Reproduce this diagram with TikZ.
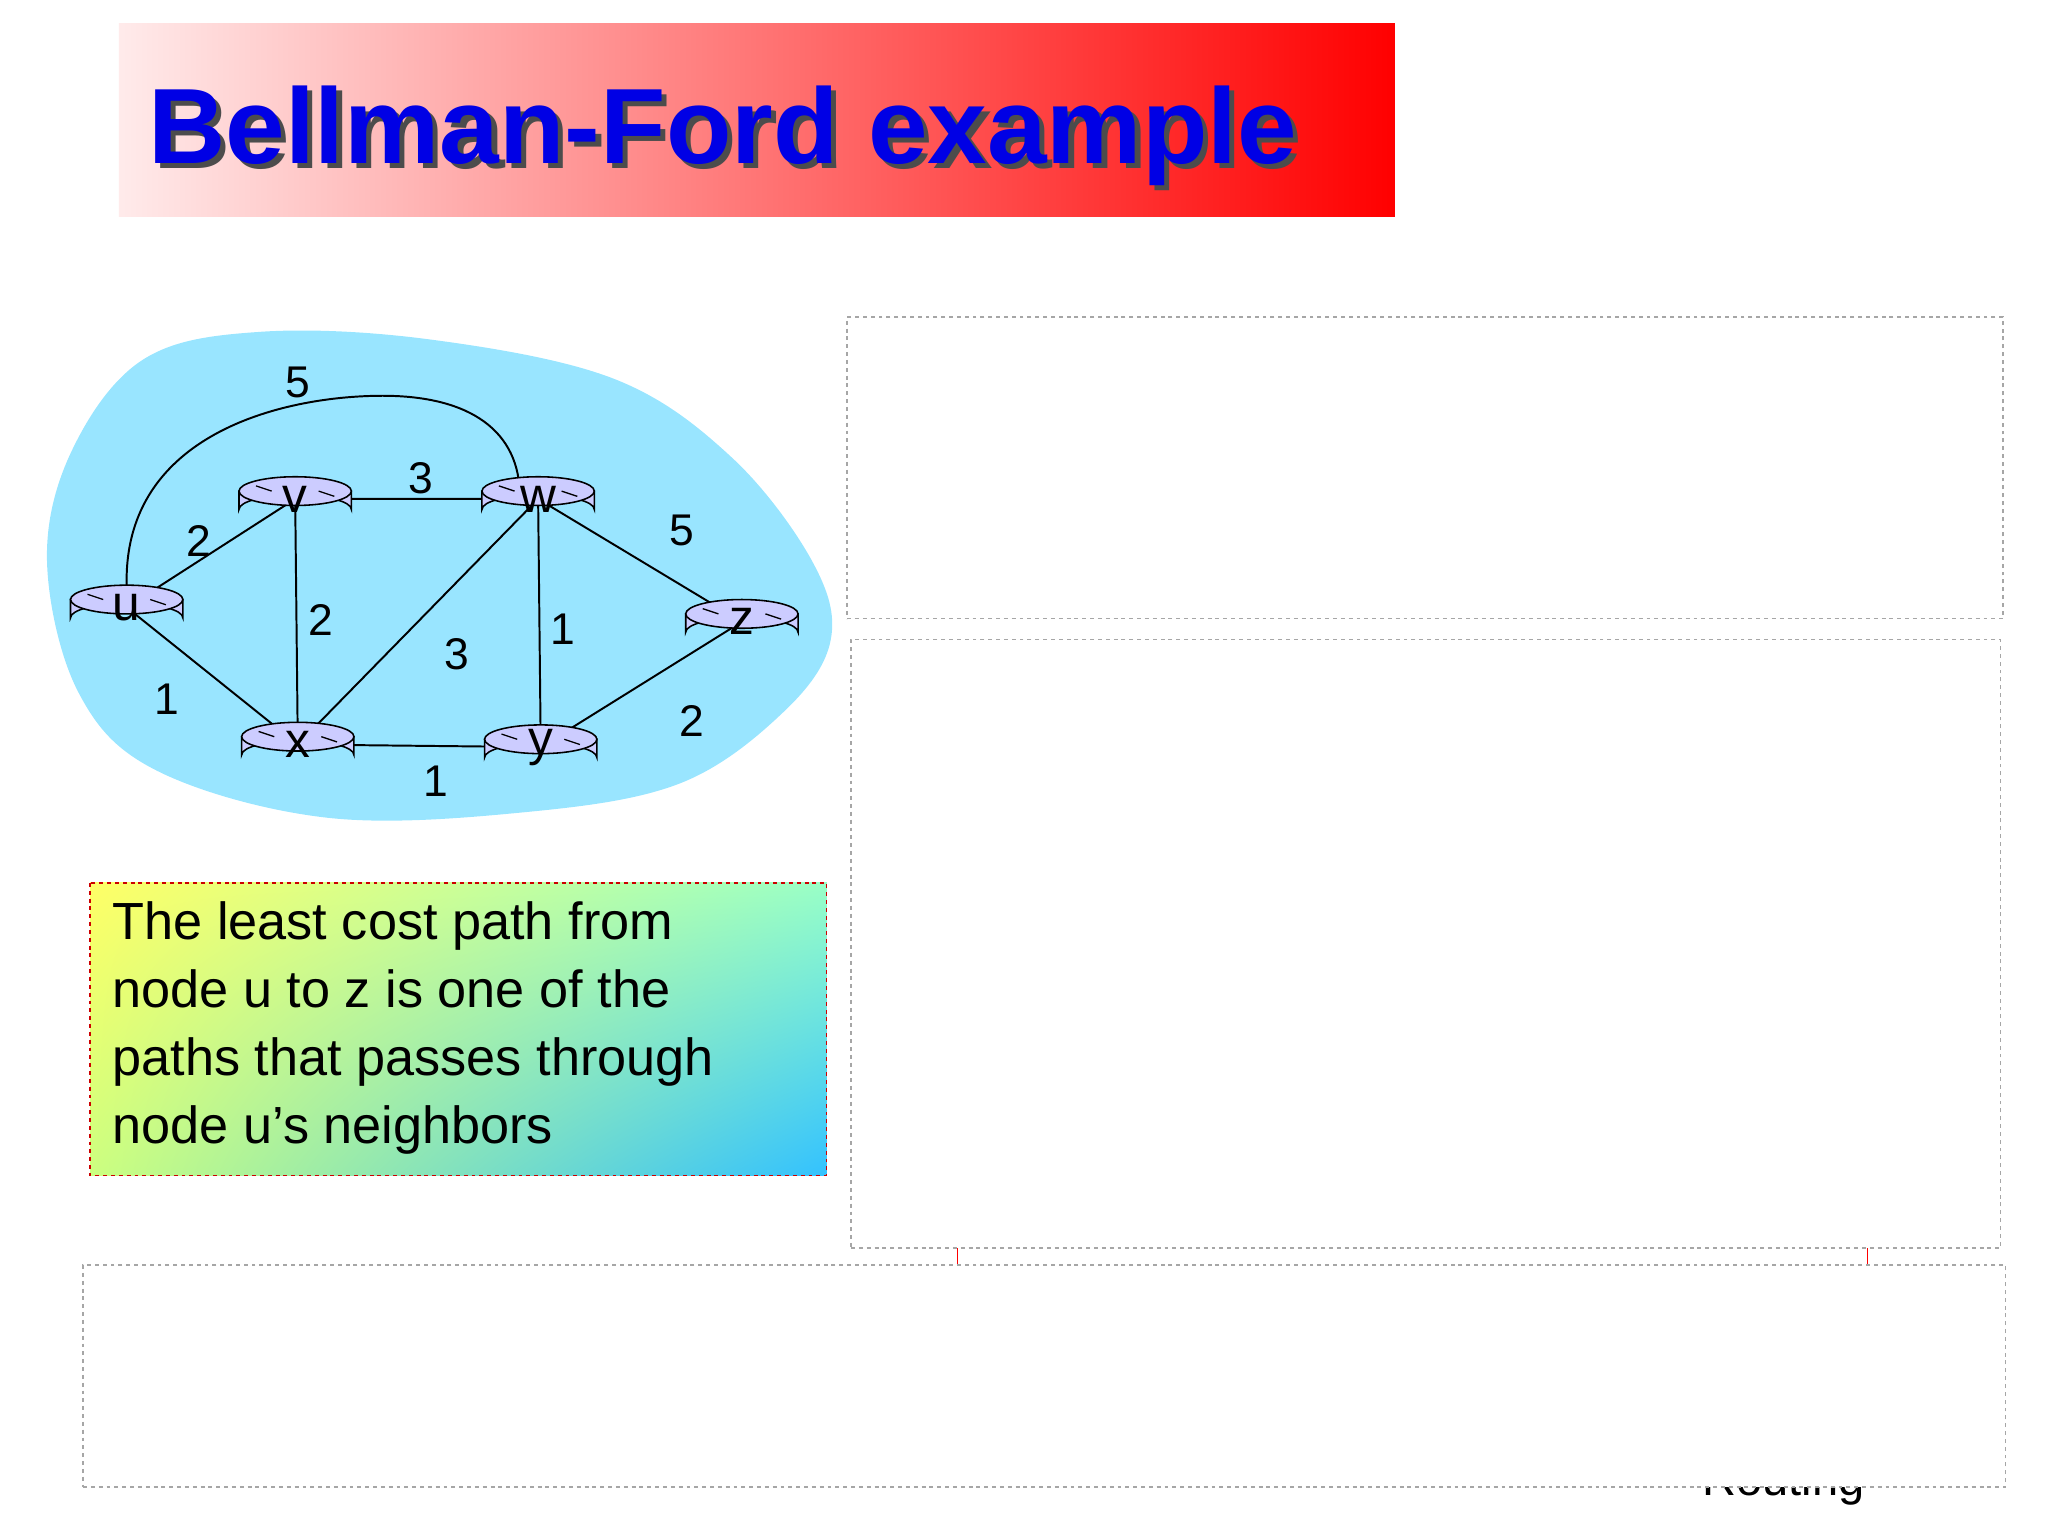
\documentclass[tikz,border=0pt]{standalone}
\usepackage{fontspec}
\setmainfont{Liberation Sans}
\usetikzlibrary{calc,shadings}
\begin{document}
\begin{tikzpicture}[x=1pt,y=-1pt,
  dbox/.style={draw=gray!70,dashed,fill=white,line width=1.2pt},
  lbl/.style={font=\fontsize{34}{34}\selectfont},
  edge/.style={line width=1.5pt}]
\useasboundingbox (0,0) rectangle (1568,1176);
% title
\shade[left color=red!8,right color=red] (91,18) rectangle (1068,166);
\node[anchor=base west,text=black!70,font=\bfseries\fontsize{82}{82}\selectfont] at (114,129) {Bellman-Ford example};
\node[anchor=base west,text=blue!90!black,font=\bfseries\fontsize{82}{82}\selectfont] (title) at (110,125) {Bellman-Ford example};
% hidden texts
\node[anchor=base west,font=\fontsize{36}{36}\selectfont] (rt) at (1300,1145) {Routing};
\node[anchor=base,font=\fontsize{40}{40}\selectfont] (yy) at (1188,945) {y};
\draw[red,line width=1pt] (733,950) -- (733,968) (1430,950) -- (1430,968);
% boxes
\node[dbox,minimum width=885,minimum height=231,anchor=north west] (b1) at (648,242) {};
\node[dbox,minimum width=880,minimum height=466,anchor=north west] (b2) at (651,489) {};
\node[dbox,minimum width=1472,minimum height=170,anchor=north west] (b3) at (63,968) {};
% cloud
\fill[blue!25!cyan!40] plot[smooth cycle,tension=0.6] coordinates
 {(110,275)(200,254)(330,260)(470,290)(560,350)(622,430)(636,490)(600,545)(520,600)(400,622)(250,626)(120,590)(60,530)(36,430)(55,345)};
% router positions
\coordinate (u) at (97,465); \coordinate (v) at (226,382); \coordinate (w) at (412,382);
\coordinate (z) at (568,476); \coordinate (x) at (228,570); \coordinate (y) at (414,572);
\draw[edge] (u)--(v) (u)--(x) (v)--(w) (v)--(x) (w)--(x) (w)--(y) (w)--(z) (x)--(y) (y)--(z);
\draw[edge] (u) -- (97,440) .. controls (100,330) and (220,303) .. (293,303) .. controls (360,303) and (398,330) .. (398,380);
% routers
\foreach \n/\l in {u/u,v/v,w/w,z/z,x/x,y/y}{
  \fill[blue!20,draw=black,line width=1.2pt] ($(\n)+(-43,-6)$) -- ($(\n)+(-43,8)$) arc[start angle=180,end angle=360,x radius=43,y radius=11] -- ($(\n)+(43,-6)$) -- cycle;
  \draw[fill=blue!20,line width=1.2pt] ($(\n)+(0,-6)$) ellipse[x radius=43,y radius=11];
  \draw[line width=1pt] ($(\n)+(-30,-10)$)--($(\n)+(-18,-6)$) ($(\n)+(30,-2)$)--($(\n)+(18,-6)$);
  \node[font=\fontsize{38}{38}\selectfont] (L\n) at (\n) {\l};
}
% weights
\node[lbl] (w1) at (228,293) {5}; \node[lbl] (w2) at (322,366) {3};
\node[lbl] (w3) at (152,414) {2}; \node[lbl] (w4) at (522,406) {5};
\node[lbl] (w5) at (246,475) {2}; \node[lbl] (w6) at (431,482) {1};
\node[lbl] (w7) at (350,501) {3}; \node[lbl] (w8) at (128,535) {1};
\node[lbl] (w9) at (530,552) {2}; \node[lbl] (w10) at (334,598) {1};
% text box
\shade[upper left=yellow!60,upper right=cyan!45!green!40,lower left=green!40!yellow!50,lower right=cyan!70!blue!80] (69,676) rectangle (633,900);
\draw[red!80!black,dashed,line width=1pt] (69,676) rectangle (633,900);
\node[anchor=north west,align=left,font=\fontsize{40}{52}\selectfont,inner sep=0pt] (txt) at (86,690)
 {The least cost path from\\node u to z is one of the\\paths that passes through\\node u’s neighbors};
\end{tikzpicture}
\end{document}
